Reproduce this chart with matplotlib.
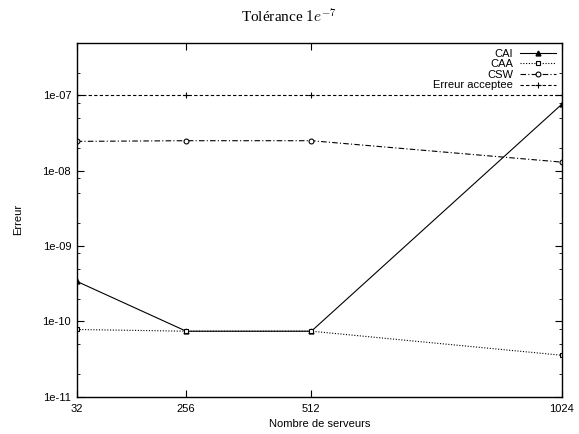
import matplotlib
matplotlib.use("Agg")
import matplotlib.pyplot as plt
from matplotlib.ticker import LogLocator, NullFormatter

# Nombre de serveurs
servers = [32, 256, 512, 1024]

# Erreur par methode
cai = [3.4e-10, 7.4e-11, 7.4e-11, 7.6e-8]
caa = [7.8e-11, 7.4e-11, 7.4e-11, 3.55e-11]
csw = [2.45e-8, 2.5e-8, 2.5e-8, 1.3e-8]
erreur_acceptee = [1e-7, 1e-7, 1e-7, 1e-7]

y_ticks = [1e-11, 1e-10, 1e-9, 1e-8, 1e-7]
y_labels = ["1e-11", "1e-10", "1e-09", "1e-08", "1e-07"]

plt.rcParams['font.family'] = ['Liberation Sans', 'DejaVu Sans']
plt.rcParams['mathtext.fontset'] = 'cm'

fig = plt.figure(figsize=(5.79, 4.34), dpi=100)
ax = fig.add_axes([76.7 / 579, 1 - 396.7 / 434, (561.7 - 76.7) / 579, (396.7 - 42.7) / 434])

lw = 0.8
ax.plot(servers, cai, color="black", lw=lw, ls="-", marker="^", ms=3.5,
        mfc="black", label="CAI")
ax.plot(servers, caa, color="black", lw=lw, ls=(0, (1, 1.5)), marker="s", ms=3.5,
        mfc="white", mew=0.8, label="CAA")
ax.plot(servers, csw, color="black", lw=lw, ls=(0, (5, 2, 1, 2)), marker="o", ms=3.5,
        mfc="white", mew=0.8, label="CSW")
ax.plot(servers, erreur_acceptee, color="black", lw=lw, ls=(0, (3, 2)), marker="+", ms=4.5,
        mew=0.8, label="Erreur acceptee")

ax.set_yscale("log")
ax.set_xlim(32, 1024)
ax.set_ylim(1e-11, 5e-7)
ax.set_xticks(servers)
ax.set_xticklabels([str(s) for s in servers])
ax.set_yticks(y_ticks)
ax.set_yticklabels(y_labels)
ax.yaxis.set_minor_locator(LogLocator(base=10, subs=(2, 5, 8)))
ax.yaxis.set_minor_formatter(NullFormatter())

ax.tick_params(which="both", direction="in", top=True, right=True, labelsize=8)
ax.tick_params(axis="x", pad=5)
ax.tick_params(axis="y", pad=4)
ax.tick_params(which="major", length=5, width=0.8)
ax.tick_params(which="minor", length=2.5, width=0.6)
for s in ax.spines.values():
    s.set_linewidth(1.0)

ax.set_xlabel("Nombre de serveurs", fontsize=8, labelpad=4)
ax.set_ylabel("Erreur", fontsize=8, labelpad=14)

fig.text(0.5, 1 - 17 / 434, r"Tolérance $1e^{-7}$", ha="center", va="center",
         fontsize=11, family=["Liberation Serif", "DejaVu Serif"])

ax.legend(loc="upper right", frameon=False, markerfirst=False, fontsize=8,
          labelspacing=0.05, handlelength=3.2, handletextpad=0.6,
          borderaxespad=0.3, borderpad=0.25)

fig.savefig("out.png", dpi=100)
